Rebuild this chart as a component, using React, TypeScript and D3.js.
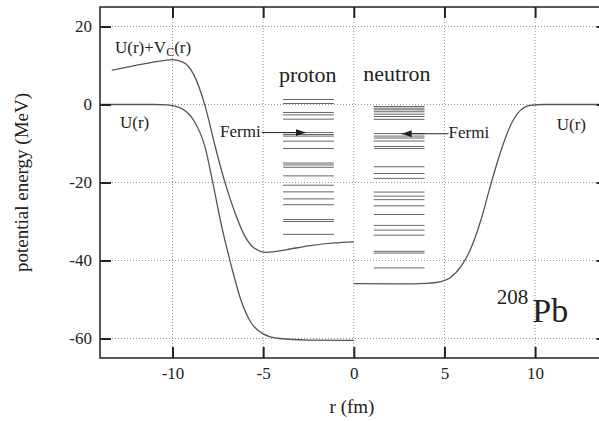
import React, { useEffect, useRef } from 'react';
import * as d3 from 'd3';

// axis ticks
const xTicks = [-10, -5, 0, 5, 10];
const yTicks = [20, 0, -20, -40, -60];

// potentials: [r (fm), energy (MeV)]
const protonU: [number, number][] = [
  [-14, 0], [-11, 0], [-10.3, -0.1], [-9.6, -0.8], [-9.2, -2.0], [-8.8, -4.3],
  [-8.2, -11.0], [-7.8, -19.5], [-7.3, -31.0], [-6.75, -41.5], [-6.2, -50.5],
  [-5.7, -55.7], [-5.0, -58.8], [-4.1, -60.0], [-2.5, -60.4], [0, -60.5],
];
const protonUVc: [number, number][] = [
  [-13.35, 8.8], [-12.5, 9.6], [-11.5, 10.5], [-10.7, 11.1], [-10.0, 11.5],
  [-9.4, 10.8], [-8.8, 7.4], [-8.2, -0.4], [-7.65, -10.7], [-7.1, -20.1],
  [-6.55, -27.8], [-6.0, -33.8], [-5.5, -36.8], [-4.8, -37.9], [-3.7, -37.2],
  [-2.4, -36.2], [-1.1, -35.5], [0, -35.2],
];
const neutronU: [number, number][] = [
  [0, -45.95], [2.5, -46.0], [4.0, -45.85], [4.8, -45.4], [5.3, -44.5],
  [5.9, -41.6], [6.4, -37.5], [7.0, -29.8], [7.55, -20.6], [8.1, -12.1],
  [8.65, -5.3], [9.2, -1.45], [9.75, -0.2], [10.5, 0], [14, 0],
];

// single-particle levels (MeV)
const protonLevels = [
  1.28, 0.26, -2.04, -2.66, -3.75, -7.2, -7.7, -8.1, -9.4, -11.3, -15.0, -15.5,
  -16.1, -18.3, -20.7, -22.4, -24.2, -25.7, -29.5, -30.0, -33.3,
];
const neutronLevels = [
  -0.51, -0.95, -1.38, -1.86, -2.48, -3.07, -3.81, -7.46, -8.1, -8.6, -9.37,
  -10.78, -11.3, -15.96, -17.7, -18.95, -22.45, -23.5, -24.4, -25.98, -28.2,
  -31.0, -32.2, -33.5, -37.65, -38.1, -41.9,
];
const protonLevelSpan = [-3.9, -1.1];
const neutronLevelSpan = [1.1, 3.9];
const protonFermi = -7.2;
const neutronFermi = -7.5;
const protonArrow = [-5.08, -2.65];
const neutronArrow = [5.22, 2.64];

const FONT = "'Liberation Serif', serif";

export default function App() {
  const ref = useRef<SVGSVGElement>(null);

  useEffect(() => {
    const svg = d3.select(ref.current);
    svg.selectAll('*').remove();

    const x = d3.scaleLinear().domain([-14, 14]).range([100, 607.6]);
    const y = d3.scaleLinear().domain([-65, 25]).range([358, 7]);
    const [x0, x1] = x.range();
    const [y0, y1] = y.range();

    svg.append('defs').append('marker')
      .attr('id', 'arr')
      .attr('viewBox', '0 0 10 10')
      .attr('refX', 10).attr('refY', 5)
      .attr('markerWidth', 10).attr('markerHeight', 10)
      .attr('markerUnits', 'userSpaceOnUse')
      .attr('orient', 'auto')
      .append('path')
      .attr('d', 'M0,1.5 L10,5 L0,8.5 Z')
      .attr('fill', '#222');

    // grid
    const grid = svg.append('g')
      .attr('stroke', '#999')
      .attr('stroke-width', 1)
      .attr('stroke-dasharray', '1,2');
    grid.selectAll('.gx').data(xTicks).join('line')
      .attr('class', 'gx')
      .attr('x1', d => x(d)).attr('x2', d => x(d))
      .attr('y1', y1).attr('y2', y0);
    grid.selectAll('.gy').data(yTicks).join('line')
      .attr('class', 'gy')
      .attr('x1', x0).attr('x2', x1)
      .attr('y1', d => y(d)).attr('y2', d => y(d));

    // levels
    const levels = svg.append('g').attr('stroke', '#666').attr('stroke-width', 1);
    levels.selectAll('.lp').data(protonLevels).join('line')
      .attr('class', 'lp')
      .attr('x1', x(protonLevelSpan[0])).attr('x2', x(protonLevelSpan[1]))
      .attr('y1', d => y(d)).attr('y2', d => y(d));
    levels.selectAll('.ln').data(neutronLevels).join('line')
      .attr('class', 'ln')
      .attr('x1', x(neutronLevelSpan[0])).attr('x2', x(neutronLevelSpan[1]))
      .attr('y1', d => y(d)).attr('y2', d => y(d));

    // curves
    const line = d3.line<[number, number]>()
      .x(d => x(d[0])).y(d => y(d[1]))
      .curve(d3.curveMonotoneX);
    [protonU, protonUVc, neutronU].forEach(data => {
      svg.append('path')
        .attr('d', line(data))
        .attr('fill', 'none')
        .attr('stroke', '#555')
        .attr('stroke-width', 1.3);
    });

    // fermi arrows
    svg.append('line')
      .attr('x1', x(protonArrow[0])).attr('x2', x(protonArrow[1]))
      .attr('y1', y(protonFermi)).attr('y2', y(protonFermi))
      .attr('stroke', '#222').attr('stroke-width', 1)
      .attr('marker-end', 'url(#arr)');
    svg.append('line')
      .attr('x1', x(neutronArrow[0])).attr('x2', x(neutronArrow[1]))
      .attr('y1', y(neutronFermi)).attr('y2', y(neutronFermi))
      .attr('stroke', '#222').attr('stroke-width', 1)
      .attr('marker-end', 'url(#arr)');

    // axes with inward ticks
    const fmt = (d: d3.NumberValue) => String(d);
    const styleAxis = (g: d3.Selection<SVGGElement, unknown, null, undefined>) => {
      g.attr('font-family', FONT).attr('font-size', 17);
      g.select('.domain').remove();
      g.selectAll('line').attr('stroke', '#222').attr('stroke-width', 2);
      g.selectAll('text').attr('fill', '#222').attr('font-family', FONT);
    };
    svg.append('g')
      .attr('transform', `translate(0,${y0})`)
      .call(d3.axisBottom(x).tickValues(xTicks).tickSize(-11).tickPadding(9).tickFormat(fmt))
      .call(styleAxis);
    svg.append('g')
      .attr('transform', `translate(0,${y1})`)
      .call(d3.axisTop(x).tickValues(xTicks).tickSize(-11).tickFormat(() => ''))
      .call(styleAxis);
    svg.append('g')
      .attr('transform', `translate(${x0},0)`)
      .call(d3.axisLeft(y).tickValues(yTicks).tickSize(-11).tickPadding(8).tickFormat(fmt))
      .call(styleAxis);
    svg.append('g')
      .attr('transform', `translate(${x1},0)`)
      .call(d3.axisRight(y).tickValues(yTicks).tickSize(-11).tickFormat(() => ''))
      .call(styleAxis);

    // frame
    svg.append('rect')
      .attr('x', x0).attr('y', y1)
      .attr('width', x1 - x0).attr('height', y0 - y1)
      .attr('fill', 'none')
      .attr('stroke', '#222')
      .attr('stroke-width', 1.5);

    const label = (tx: number, ty: number, text: string, size: number, anchor = 'start') =>
      svg.append('text')
        .attr('x', tx).attr('y', ty)
        .attr('text-anchor', anchor)
        .attr('fill', '#222')
        .attr('font-family', FONT)
        .attr('font-size', size)
        .text(text);

    // axis titles
    label(352, 413, 'r (fm)', 19, 'middle');
    svg.append('text')
      .attr('transform', `translate(28,${(y0 + y1) / 2}) rotate(-90)`)
      .attr('text-anchor', 'middle')
      .attr('fill', '#222')
      .attr('font-family', FONT)
      .attr('font-size', 19)
      .text('potential energy (MeV)');

    // annotations
    const uvc = svg.append('text')
      .attr('x', 115).attr('y', 52.7)
      .attr('fill', '#222')
      .attr('font-family', FONT)
      .attr('font-size', 17);
    uvc.append('tspan').text('U(r)+V');
    uvc.append('tspan').attr('dy', 3).attr('font-size', 12).text('C');
    uvc.append('tspan').attr('dy', -3).text('(r)');

    label(120, 128, 'U(r)', 17);
    label(556.7, 130, 'U(r)', 17);
    label(279, 81.5, 'proton', 22);
    label(363.3, 81, 'neutron', 22);
    label(220, 137.3, 'Fermi', 17);
    label(448.5, 137.7, 'Fermi', 17);
    label(496.7, 304, '208', 21);
    label(532.3, 321.7, 'Pb', 34);
  }, []);

  return (
    <svg
      ref={ref}
      width={599}
      height={421}
      style={{ position: 'absolute', left: 0, top: 0, background: '#fff' }}
    />
  );
}
